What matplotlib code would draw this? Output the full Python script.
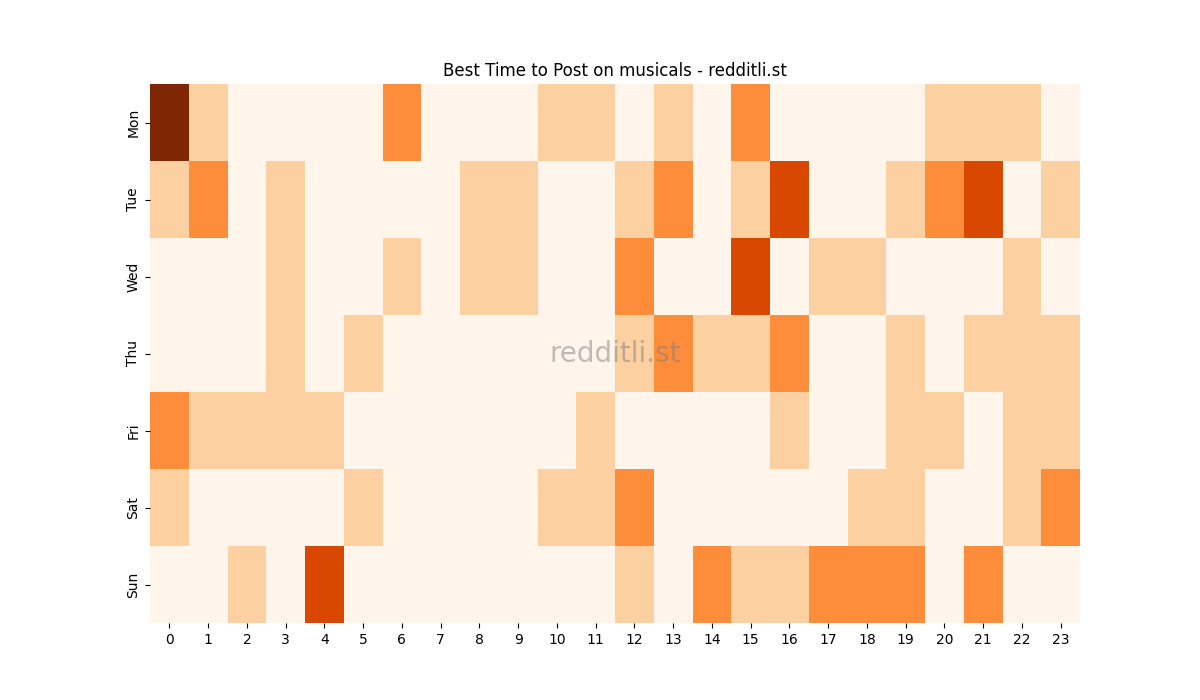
import matplotlib
matplotlib.use('Agg')
import matplotlib.pyplot as plt
import seaborn as sns
import pandas as pd

days = ['Mon', 'Tue', 'Wed', 'Thu', 'Fri', 'Sat', 'Sun']
hours = list(range(24))

# activity level per hour (0-4)
mon = [4, 1, 0, 0, 0, 0, 2, 0, 0, 0, 1, 1, 0, 1, 0, 2, 0, 0, 0, 0, 1, 1, 1, 0]
tue = [1, 2, 0, 1, 0, 0, 0, 0, 1, 1, 0, 0, 1, 2, 0, 1, 3, 0, 0, 1, 2, 3, 0, 1]
wed = [0, 0, 0, 1, 0, 0, 1, 0, 1, 1, 0, 0, 2, 0, 0, 3, 0, 1, 1, 0, 0, 0, 1, 0]
thu = [0, 0, 0, 1, 0, 1, 0, 0, 0, 0, 0, 0, 1, 2, 1, 1, 2, 0, 0, 1, 0, 1, 1, 1]
fri = [2, 1, 1, 1, 1, 0, 0, 0, 0, 0, 0, 1, 0, 0, 0, 0, 1, 0, 0, 1, 1, 0, 1, 1]
sat = [1, 0, 0, 0, 0, 1, 0, 0, 0, 0, 1, 1, 2, 0, 0, 0, 0, 0, 1, 1, 0, 0, 1, 2]
sun = [0, 0, 1, 0, 3, 0, 0, 0, 0, 0, 0, 0, 1, 0, 2, 1, 1, 2, 2, 2, 0, 2, 0, 0]

df = pd.DataFrame([mon, tue, wed, thu, fri, sat, sun], index=days, columns=hours)

fig, ax = plt.subplots(figsize=(12, 7))
sns.heatmap(df, cmap='Oranges', cbar=False, vmin=0, vmax=4, ax=ax)
ax.set_title('Best Time to Post on musicals - redditli.st')
ax.text(0.5, 0.5, 'redditli.st', transform=ax.transAxes, fontsize=20,
        color='gray', alpha=0.5, ha='center', va='center')

plt.savefig('out.png', dpi=100)
plt.close()
